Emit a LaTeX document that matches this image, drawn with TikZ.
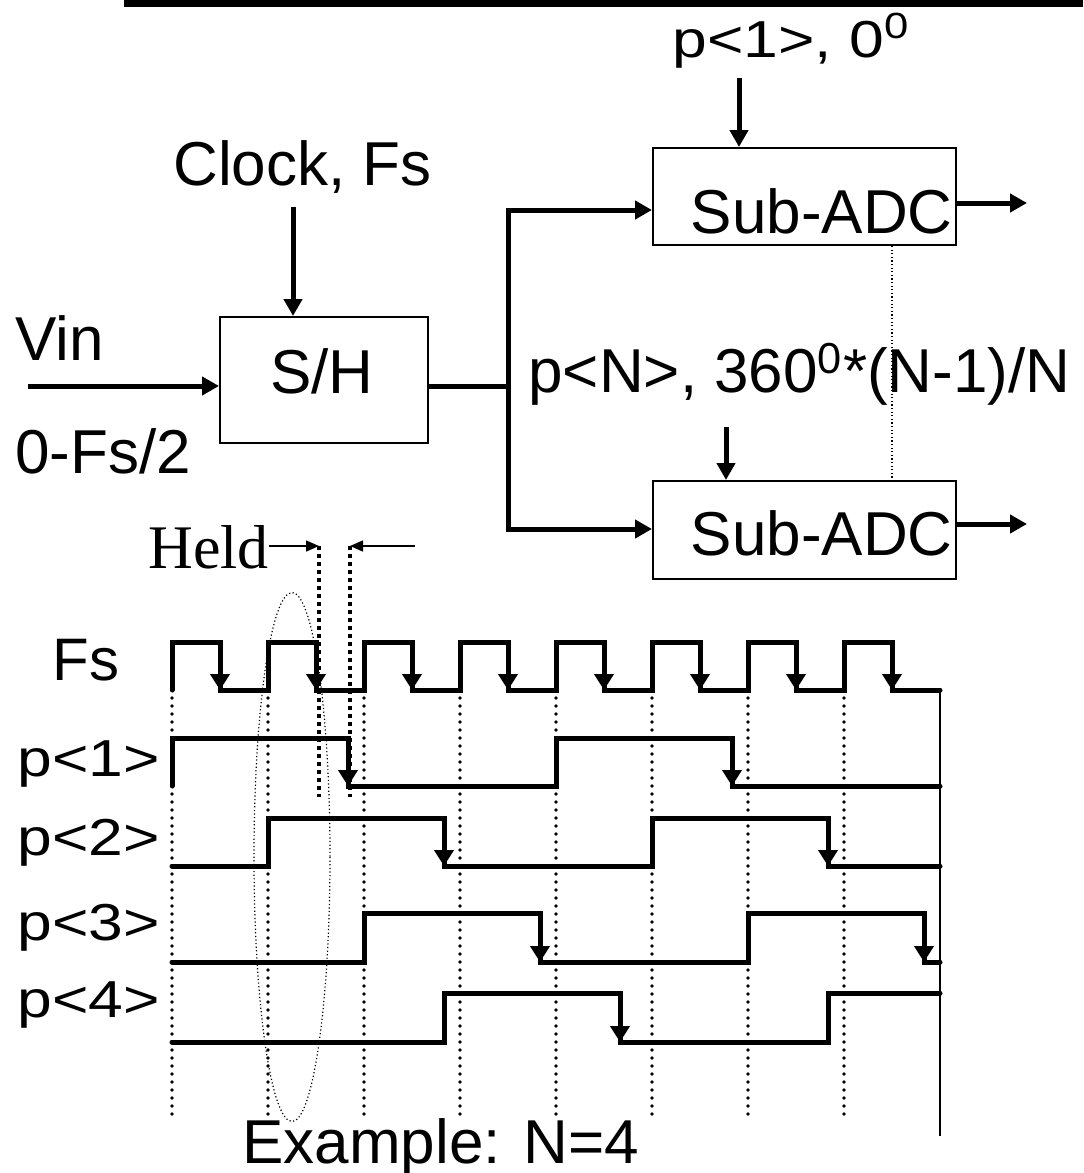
\documentclass[tikz,border=0pt]{standalone}
\usepackage{fontspec}
\setmainfont{Liberation Sans}
\newfontfamily\heldfont{Liberation Serif}
\usetikzlibrary{calc}
\usetikzlibrary{arrows.meta}

\tikzset{
  lbl/.style={inner sep=0pt, font=\fontsize{31}{37}\selectfont},
  plbl/.style={inner sep=0pt, font=\fontsize{26}{31}\selectfont},
  blockbox/.style={draw, line width=1pt, inner sep=0pt},
  sig/.style={line width=2.5pt},
  sigarrow/.style={line width=2.5pt, -{Triangle[length=8.5pt,width=9pt]}},
  wave/.style={line width=2.5pt, line cap=round},
  fallarrow/.style={line width=2.5pt, -{Triangle[length=8pt,width=9.5pt]}},
  gridline/.style={line width=1.8pt, dash pattern=on 0pt off 4pt, line cap=round},
  holdline/.style={line width=2.2pt, dash pattern=on 2pt off 2pt},
  thindot/.style={line width=0.6pt, dash pattern=on 0.6pt off 1.2pt},
  heldarrow/.style={line width=0.75pt, -{Triangle[length=6.5pt,width=5.5pt]}}
}

\begin{document}
\begin{tikzpicture}[x=0.5pt,y=-0.5pt]
\def\period{96}
\def\tzero{172}
\def\tend{940}
\def\fshigh{642}
\def\fslow{690}
\useasboundingbox (0,0) rectangle (1083,1173);
\fill (124,0) rectangle (1083,7);

% blocks
\node[blockbox, minimum width=104pt, minimum height=63pt] (sh) at (324,380) {};
\node[lbl, anchor=base] (shtext) at (322,393) {S/H};
\node[blockbox, minimum width=151.5pt, minimum height=48.5pt] (adcA) at (804.5,196.5) {};
\node[lbl, anchor=base east] (adcAtext) at (953,233) {Sub-ADC};
\node[blockbox, minimum width=151.5pt, minimum height=49pt] (adcB) at (804.5,530) {};
\node[lbl, anchor=base east] (adcBtext) at (953,555) {Sub-ADC};

\node[lbl, anchor=base west] (clk) at (173,185) {Clock, Fs};
\node[lbl, anchor=base west] (vin) at (15,360) {Vin};
\node[lbl, anchor=base west] (band) at (15,473) {0-Fs/2};
\node[plbl, anchor=base west] (phA) at (672,57) {\scalebox{1.2}[1]{p<1>, 0\textsuperscript{0}}};
\node[lbl, anchor=base west] (phN) at (528,392) {p<N>, 360\textsuperscript{0}*(N-1)/N};

% connectors
\coordinate (clkin) at (293,207);
\coordinate (vinstart) at (28,386);
\coordinate (busmid) at (508,386);
\coordinate (bustop) at (508,210);
\coordinate (busbot) at (508,529);
\coordinate (phAin) at (739,78);
\coordinate (phNin) at (726,427);
\coordinate (outA) at (1027,203);
\coordinate (outB) at (1027,524);
\coordinate (sep) at (892,0);

\draw[sigarrow] (clkin) -- (clkin |- sh.north);
\draw[sigarrow] (vinstart) -- (vinstart -| sh.west);
\draw[sig] (sh.east |- busmid) -- (busmid);
\draw[sigarrow] (busbot) -- (bustop) -- (bustop -| adcA.west);
\draw[sigarrow] (bustop) -- (busbot) -- (busbot -| adcB.west);
\draw[sigarrow] (phAin) -- (phAin |- adcA.north);
\draw[sigarrow] (phNin) -- (phNin |- adcB.north);
\draw[sigarrow] (outA -| adcA.east) -- (outA);
\draw[sigarrow] (outB -| adcB.east) -- (outB);
\draw[thindot] (adcA.south -| sep) -- (adcB.north -| sep);

% timing
\foreach \k in {0,...,7}
  \draw[gridline] ({\tzero+\k*\period},\fslow) -- ({\tzero+\k*\period},1116);

\draw[wave] (\tzero,\fslow) \foreach \k in {0,...,7} { -- ++(0,-48) -- ++(48,0) -- ++(0,48) -- ++(48,0) };
\foreach \k in {0,...,7}
  \draw[fallarrow] ({\tzero+\k*\period+48},\fshigh) -- ({\tzero+\k*\period+48},\fslow);
\draw[line width=1pt] (\tend,\fslow) -- (\tend,1136);

\draw[wave] (172,786) -- (172,738) -- (348,738) -- (348,786) -- (556,786) -- (556,738) -- (732,738) -- (732,786) -- (940,786);
\draw[wave] (172,866) -- (268,866) -- (268,818) -- (444,818) -- (444,866) -- (652,866) -- (652,818) -- (828,818) -- (828,866) -- (940,866);
\draw[wave] (172,962) -- (364,962) -- (364,913) -- (540,913) -- (540,962) -- (748,962) -- (748,913) -- (924,913) -- (924,962) -- (940,962);
\draw[wave] (172,1042) -- (444,1042) -- (444,993) -- (620,993) -- (620,1042) -- (828,1042) -- (828,993) -- (940,993);
\foreach \x/\hi/\lo in {348/738/786, 732/738/786, 444/818/866, 828/818/866, 540/913/962, 924/913/962, 620/993/1042}
  \draw[fallarrow] (\x,\hi) -- (\x,\lo);

\node[lbl, font=\fontsize{30}{36}\selectfont, anchor=base west] (fslabel) at (52,680) {Fs};
\foreach \i/\yb in {1/776, 2/855, 3/940, 4/1017}
  \node[plbl, anchor=base west] (plabel\i) at (17,\yb) {\scalebox{1.2}[1]{p<\i>}};

% held window
\node[lbl, font=\heldfont\fontsize{31}{37}\selectfont, anchor=base west] (held) at (148,568) {Held};
\coordinate (holdA) at (319,546);
\coordinate (holdB) at (350,546);
\coordinate (holdfrom) at (415,546);
\coordinate (holdAend) at (319,797);
\coordinate (holdBend) at (350,797);
\draw[heldarrow] (held.east |- holdA) -- (holdA);
\draw[heldarrow] (holdfrom) -- (holdB);
\draw[holdline] (holdA) -- (holdAend);
\draw[holdline] (holdB) -- (holdBend);
\draw[thindot] (292,857) ellipse [x radius=38, y radius=264.5];

\node[lbl, anchor=base west] (example) at (242,1163) {Example: N=4};
\end{tikzpicture}
\end{document}
